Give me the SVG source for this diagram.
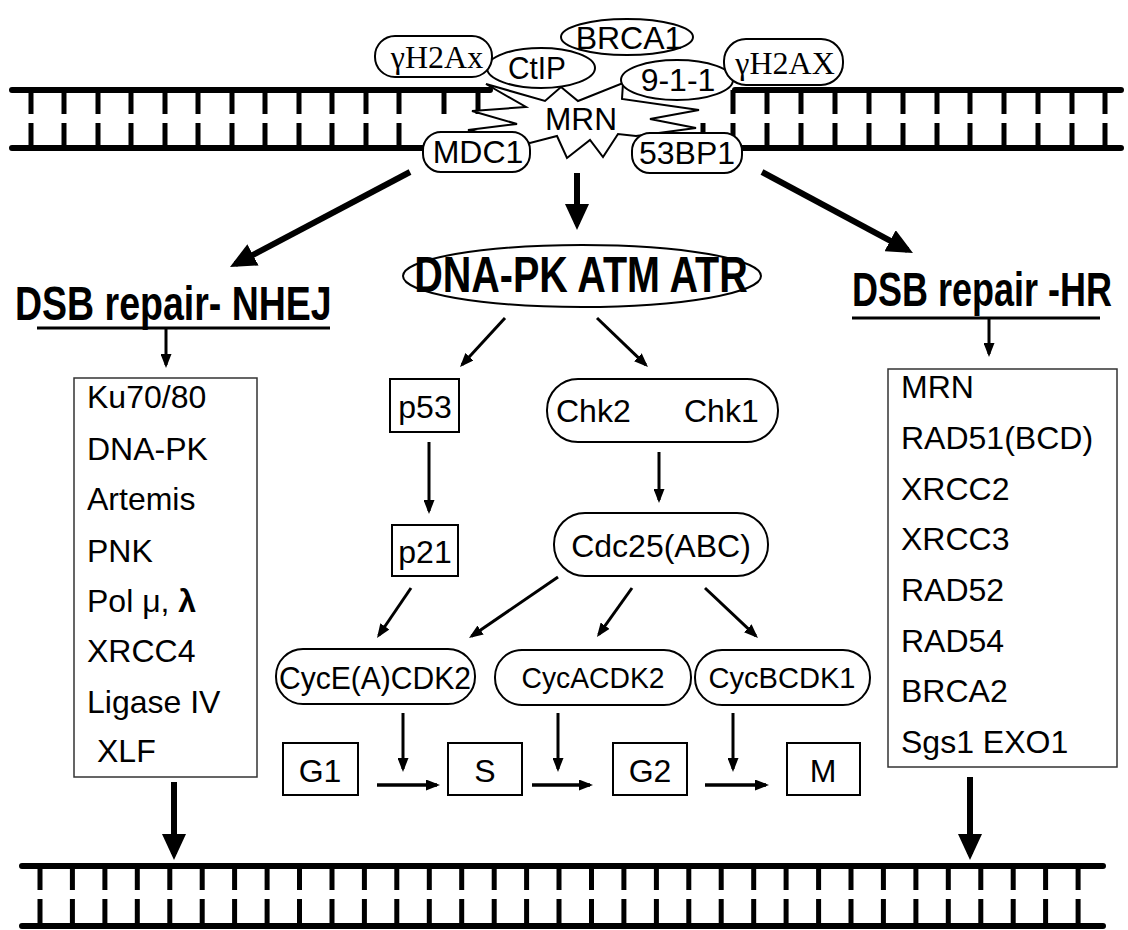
<svg xmlns="http://www.w3.org/2000/svg" width="1128" height="930" viewBox="0 0 1128 930">
<style>
.t{font-family:"Liberation Sans",Arial,sans-serif;font-size:32px;fill:#000}
.c{text-anchor:middle}
.s{font-family:"Liberation Serif","Times New Roman",serif;font-size:32px;fill:#000;text-anchor:middle}
.b{font-weight:bold}
.sm{font-size:30px}
.n{fill:#fff;stroke:#000;stroke-width:2}
.bx{fill:#fff;stroke:#333;stroke-width:1.5}
.l{stroke:#000;stroke-width:3;fill:none}
.h{stroke:#000;stroke-width:3.5;fill:none}
.k{stroke:#000;stroke-width:6;fill:none}
.strand{stroke:#000;stroke-width:6;fill:none;stroke-linecap:round}
.rung{stroke:#000;stroke-width:5;fill:none}
</style>
<defs>
<marker id="ah" viewBox="0 0 14 11" refX="11" refY="5.5" markerWidth="14" markerHeight="11" orient="auto" markerUnits="userSpaceOnUse"><path d="M0,0 L14,5.5 L0,11 z" fill="#000"/></marker>
<marker id="ahb" viewBox="0 0 26 24" refX="20" refY="12" markerWidth="26" markerHeight="24" orient="auto" markerUnits="userSpaceOnUse"><path d="M0,0 L26,12 L0,24 z" fill="#000"/></marker>
</defs>
<rect width="1128" height="930" fill="#fff"/>

<g id="dna-top-left">
<path class="strand" d="M12 90H490M12 148H423"/>
<path class="rung" d="M31 90V114M31 123V148M64 90V114M64 123V148M98 90V114M98 123V148M131 90V114M131 123V148M165 90V114M165 123V148M198 90V114M198 123V148M232 90V114M232 123V148M265 90V114M265 123V148M299 90V114M299 123V148M332 90V114M332 123V148M366 90V114M366 123V148M399 90V114M399 123V148M444 90V114M478 90V114"/>
</g>
<g id="dna-top-right">
<path class="strand" d="M735 90H1121M742 148H1121"/>
<path class="rung" d="M703 123V133M733 90V114M733 123V148M767 90V114M767 123V148M801 90V114M801 123V148M835 90V114M835 123V148M869 90V114M869 123V148M903 90V114M903 123V148M937 90V114M937 123V148M970 90V114M970 123V148M1004 90V114M1004 123V148M1038 90V114M1038 123V148M1072 90V114M1072 123V148M1105 90V114M1105 123V148"/>
</g>
<g id="dna-bottom">
<path class="strand" d="M22 866H1103M22 926H1103"/>
<path class="rung" d="M40 866V890M40 899V926M72.4 866V890M72.4 899V926M104.9 866V890M104.9 899V926M137.3 866V890M137.3 899V926M169.8 866V890M169.8 899V926M202.2 866V890M202.2 899V926M234.6 866V890M234.6 899V926M267.1 866V890M267.1 899V926M299.5 866V890M299.5 899V926M332 866V890M332 899V926M364.4 866V890M364.4 899V926M396.8 866V890M396.8 899V926M429.3 866V890M429.3 899V926M461.7 866V890M461.7 899V926M494.2 866V890M494.2 899V926M526.6 866V890M526.6 899V926M559 866V890M559 899V926M591.5 866V890M591.5 899V926M623.9 866V890M623.9 899V926M656.4 866V890M656.4 899V926M688.8 866V890M688.8 899V926M721.2 866V890M721.2 899V926M753.7 866V890M753.7 899V926M786.1 866V890M786.1 899V926M818.6 866V890M818.6 899V926M851 866V890M851 899V926M883.4 866V890M883.4 899V926M915.9 866V890M915.9 899V926M948.3 866V890M948.3 899V926M980.8 866V890M980.8 899V926M1013.2 866V890M1013.2 899V926M1045.6 866V890M1045.6 899V926M1078.1 866V890M1078.1 899V926"/>
</g>

<g id="mrn">
<polygon class="n" points="486,84 545,101 561,87 578,101 623,83 622,99 699,110 650,119 696,128 636,136 618,134 603,157 590,140 567,158 557,136 530,143 468,130 517,124 472,111 526,107"/>
<text class="t c" x="581" y="130" textLength="72" lengthAdjust="spacingAndGlyphs">MRN</text>
</g>
<g id="brca1">
<ellipse class="n" cx="627" cy="37" rx="66" ry="18"/>
<text class="t c" x="629" y="49">BRCA1</text>
</g>
<g id="ctip">
<ellipse class="n" cx="541" cy="68" rx="54" ry="20"/>
<text class="t c" x="537" y="79" textLength="58" lengthAdjust="spacingAndGlyphs">CtIP</text>
</g>
<g id="n911">
<ellipse class="n" cx="677" cy="80" rx="56" ry="20"/>
<text class="t c" x="678" y="91">9-1-1</text>
</g>
<g id="gh2ax-left">
<rect class="n" x="375" y="36" width="117" height="41" rx="20"/>
<text class="s" x="437" y="68">γH2Ax</text>
</g>
<g id="gh2ax-right">
<rect class="n" x="724" y="39" width="119" height="46" rx="22"/>
<text class="s" x="785" y="74">γH2AX</text>
</g>
<g id="mdc1">
<rect class="n" x="423" y="132" width="107" height="40" rx="18"/>
<text class="t c" x="478" y="163">MDC1</text>
</g>
<g id="bp53">
<rect class="n" x="632" y="133" width="110" height="40" rx="18"/>
<text class="t c" x="687" y="164">53BP1</text>
</g>

<g id="connectors">
<line class="k" x1="410" y1="172" x2="235.3" y2="264.2" marker-end="url(#ahb)"/>
<line class="k" x1="577" y1="173" x2="577" y2="224" marker-end="url(#ahb)"/>
<line class="k" x1="762" y1="172" x2="907.7" y2="250.2" marker-end="url(#ahb)"/>
<line class="k" x1="174" y1="782" x2="174" y2="854" marker-end="url(#ahb)"/>
<line class="k" x1="970" y1="777" x2="970" y2="854" marker-end="url(#ahb)"/>
<line class="l" x1="166" y1="328" x2="166" y2="365" marker-end="url(#ah)"/>
<line class="l" x1="989" y1="318" x2="989" y2="354" marker-end="url(#ah)"/>
<line class="l" x1="505" y1="318" x2="462" y2="364.8" marker-end="url(#ah)"/>
<line class="l" x1="597" y1="318" x2="645.8" y2="364.9" marker-end="url(#ah)"/>
<line class="l" x1="429" y1="442" x2="429" y2="511" marker-end="url(#ah)"/>
<line class="l" x1="659" y1="452" x2="659" y2="500" marker-end="url(#ah)"/>
<line class="l" x1="411" y1="588" x2="378.7" y2="635.5" marker-end="url(#ah)"/>
<line class="l" x1="558" y1="577" x2="471.5" y2="636.3" marker-end="url(#ah)"/>
<line class="l" x1="632" y1="588" x2="598.7" y2="634.6" marker-end="url(#ah)"/>
<line class="l" x1="705" y1="588" x2="755.8" y2="635.9" marker-end="url(#ah)"/>
<line class="l" x1="403" y1="713" x2="403" y2="769" marker-end="url(#ah)"/>
<line class="l" x1="558" y1="713" x2="558" y2="769" marker-end="url(#ah)"/>
<line class="l" x1="733" y1="713" x2="733" y2="769" marker-end="url(#ah)"/>
<line class="h" x1="377" y1="785" x2="437" y2="785" marker-end="url(#ah)"/>
<line class="h" x1="532" y1="785" x2="590" y2="785" marker-end="url(#ah)"/>
<line class="h" x1="705" y1="785" x2="766" y2="785" marker-end="url(#ah)"/>
</g>

<g id="nhej-title">
<text class="t b" style="font-size:37.5px" transform="translate(15,320) scale(1,1.3)">DSB repair- NHEJ</text>
<line class="l" x1="37" y1="328" x2="330" y2="328"/>
</g>
<g id="hr-title">
<text class="t b" style="font-size:36px" transform="translate(852,306) scale(1,1.32)">DSB repair -HR</text>
<line class="l" x1="852" y1="318" x2="1100" y2="318"/>
</g>
<g id="kinases">
<ellipse class="n" cx="582" cy="276" rx="179" ry="31"/>
<text class="t b c" style="font-size:39.5px" transform="translate(581,292) scale(1,1.25)">DNA-PK ATM ATR</text>
</g>

<g id="nhej-box">
<rect class="bx" x="74" y="378" width="183" height="399"/>
<text class="t" x="87" y="408">Ku70/80</text>
<text class="t" x="87" y="460">DNA-PK</text>
<text class="t" x="87" y="510">Artemis</text>
<text class="t" x="87" y="562">PNK</text>
<text class="t" x="87" y="612">Pol μ, <tspan class="b">λ</tspan></text>
<text class="t" x="87" y="662">XRCC4</text>
<text class="t" x="87" y="713">Ligase IV</text>
<text class="t" x="97" y="762">XLF</text>
</g>
<g id="hr-box">
<rect class="bx" x="888" y="369" width="229" height="398"/>
<text class="t" x="901" y="398">MRN</text>
<text class="t" x="901" y="449">RAD51(BCD)</text>
<text class="t" x="901" y="500">XRCC2</text>
<text class="t" x="901" y="550">XRCC3</text>
<text class="t" x="901" y="601">RAD52</text>
<text class="t" x="901" y="652">RAD54</text>
<text class="t" x="901" y="702">BRCA2</text>
<text class="t" x="901" y="753">Sgs1 EXO1</text>
</g>

<g id="p53">
<rect class="n" x="390" y="379" width="69" height="53"/>
<text class="t c" x="425" y="418">p53</text>
</g>
<g id="p21">
<rect class="n" x="392" y="525" width="66" height="51"/>
<text class="t c" x="425" y="563">p21</text>
</g>
<g id="chk">
<rect class="n" x="547" y="379" width="231" height="63" rx="31"/>
<text class="t" x="556" y="422">Chk2</text>
<text class="t" x="684" y="422">Chk1</text>
</g>
<g id="cdc25">
<rect class="n" x="554" y="513" width="214" height="63" rx="31"/>
<text class="t c" x="661" y="557">Cdc25(ABC)</text>
</g>
<g id="cyce">
<rect class="n" x="276" y="649" width="199" height="55" rx="27"/>
<text class="t c" x="375" y="689" textLength="192" lengthAdjust="spacingAndGlyphs">CycE(A)CDK2</text>
</g>
<g id="cyca">
<rect class="n" x="495" y="650" width="196" height="55" rx="27"/>
<text class="t c sm" x="593" y="688" textLength="143" lengthAdjust="spacingAndGlyphs">CycACDK2</text>
</g>
<g id="cycb">
<rect class="n" x="695" y="650" width="175" height="55" rx="27"/>
<text class="t c sm" x="782" y="688" textLength="147" lengthAdjust="spacingAndGlyphs">CycBCDK1</text>
</g>
<g id="g1">
<rect class="n" x="283" y="743" width="75" height="52"/>
<text class="t c" x="320" y="782">G1</text>
</g>
<g id="s">
<rect class="n" x="448" y="743" width="74" height="52"/>
<text class="t c" x="485" y="782">S</text>
</g>
<g id="g2">
<rect class="n" x="613" y="743" width="74" height="52"/>
<text class="t c" x="650" y="782">G2</text>
</g>
<g id="m">
<rect class="n" x="787" y="743" width="73" height="52"/>
<text class="t c" x="823" y="782">M</text>
</g>
</svg>
